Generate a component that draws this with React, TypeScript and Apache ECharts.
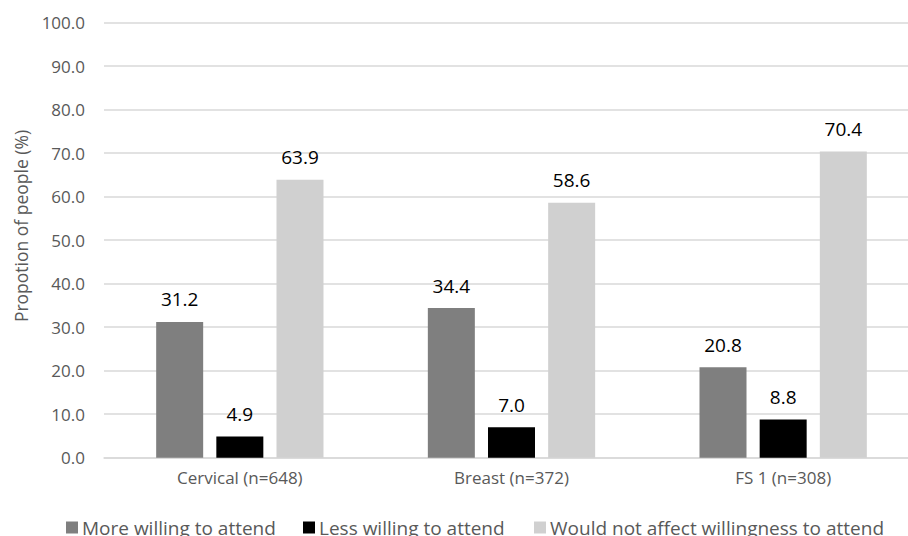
import React, { useEffect, useRef } from "react";
import * as echarts from "echarts";

const categories = ["Cervical (n=648)", "Breast (n=372)", "FS 1 (n=308)"];
const moreWilling = [31.2, 34.4, 20.8];
const lessWilling = [4.9, 7.0, 8.8];
const notAffect = [63.9, 58.6, 70.4];
const seriesNames = ["More willing to attend", "Less willing to attend", "Would not affect willingness to attend"];
const yAxisTitle = "Propotion of people (%)";
const colors = ["#7f7f7f", "#000000", "#d0d0d0"];
const legendLefts = [66, 303, 534];

const FONT = "Open Sans";

export default function App() {
  const ref = useRef<HTMLDivElement>(null);
  useEffect(() => {
    if (!ref.current) return;
    const chart = echarts.init(ref.current, undefined, { renderer: "svg" });
    const data = [moreWilling, lessWilling, notAffect];
    chart.setOption({
      animation: false,
      textStyle: { fontFamily: FONT },
      grid: { left: 104, top: 22.7, right: 0, height: 435, containLabel: false },
      legend: seriesNames.map((name, i) => ({
        top: 518,
        left: legendLefts[i],
        itemWidth: 12,
        itemHeight: 12,
        itemGap: 0,
        padding: 0,
        icon: "rect",
        textStyle: { color: "#595959", fontSize: 19, fontFamily: FONT, padding: [0, 0, 0, -1] },
        data: [name],
      })),
      graphic: [
        {
          type: "text",
          x: 21,
          y: 226,
          rotation: Math.PI / 2,
          style: {
            text: yAxisTitle,
            fill: "#595959",
            fontSize: 17.5,
            fontFamily: FONT,
            align: "center",
            verticalAlign: "middle",
          },
        },
      ],
      xAxis: {
        type: "category",
        data: categories,
        axisLine: { lineStyle: { color: "#d9d9d9", width: 1.5 } },
        axisTick: { show: false },
        axisLabel: { color: "#595959", fontSize: 17, margin: 11, fontFamily: FONT },
      },
      yAxis: {
        type: "value",
        min: 0,
        max: 100,
        interval: 10,
        axisLabel: { color: "#595959", fontSize: 17, margin: 19, formatter: (v: number) => v.toFixed(1), fontFamily: FONT },
        splitLine: { lineStyle: { color: "#d9d9d9", width: 1.5 } },
        axisLine: { show: false },
        axisTick: { show: false },
      },
      series: seriesNames.map((name, i) => ({
        name,
        type: "bar",
        data: data[i],
        barWidth: 47,
        barGap: "28%",
        itemStyle: { color: colors[i] },
        label: {
          show: true,
          position: "top",
          distance: 13,
          color: "#000000",
          fontSize: 19,
          fontFamily: FONT,
          formatter: (p: any) => Number(p.value).toFixed(1),
        },
      })),
    });
    return () => chart.dispose();
  }, []);
  return (
    <div style={{ width: 908, height: 536, position: "absolute", left: 0, top: 0, overflow: "hidden" }}>
      <div ref={ref} style={{ width: 919, height: 536 }} />
    </div>
  );
}
